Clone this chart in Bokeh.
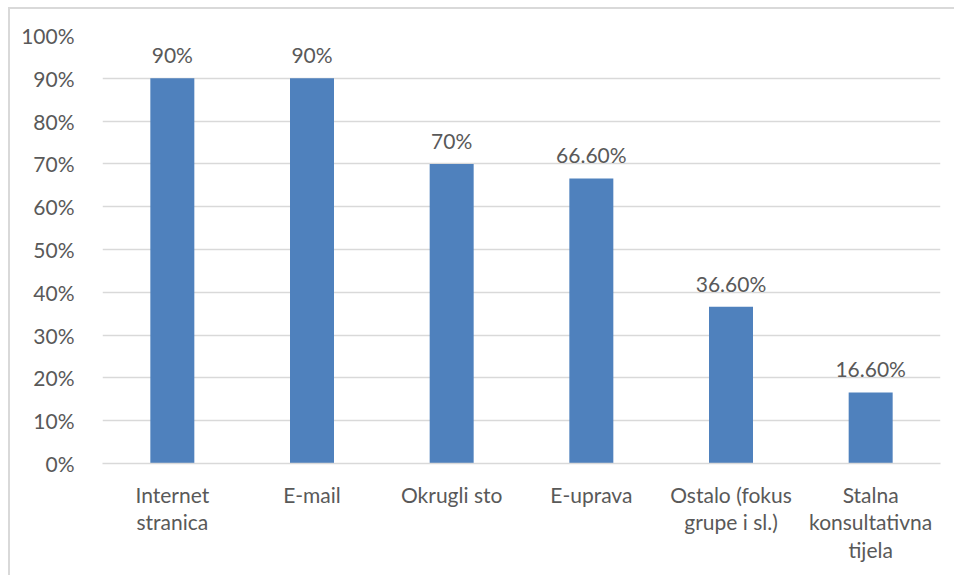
from bokeh.plotting import figure
from bokeh.models import ColumnDataSource, NumeralTickFormatter, FixedTicker, Range1d
from bokeh.core.properties import value
from bokeh.embed import file_html
from bokeh.resources import INLINE

categories = ["Internet\nstranica", "E-mail", "Okrugli sto", "E-uprava",
              "Ostalo (fokus\ngrupe i sl.)", "Stalna\nkonsultativna\ntijela"]
values = [0.90, 0.90, 0.70, 0.666, 0.366, 0.166]
labels = ["90%", "90%", "70%", "66.60%", "36.60%", "16.60%"]
y_ticks = [0, 0.1, 0.2, 0.3, 0.4, 0.5, 0.6, 0.7, 0.8, 0.9, 1.0]

FONT = "Lato"
FS = "21px"
TXT = "#595959"
GRID = "#d9d9d9"

src = ColumnDataSource(dict(cat=categories, val=values, lab=labels))

p = figure(x_range=categories, y_range=Range1d(0, 1.0), width=946, height=568,
           output_backend="svg", toolbar_location=None,
           min_border_left=92, min_border_right=16, min_border_top=26, min_border_bottom=114)
p.styles = {"margin-left": "8px", "margin-top": "7px",
            "border-left": "2px solid #d9d9d9", "border-top": "2px solid #d9d9d9"}
p.outline_line_color = None

p.vbar(x="cat", top="val", width=0.315, source=src, fill_color="#4F81BD", line_color=None)
p.text(x="cat", y="val", text="lab", source=src, text_align="center", text_baseline="bottom",
       y_offset=-11, text_font=value(FONT), text_font_size=FS, text_color=TXT)

p.yaxis.ticker = FixedTicker(ticks=y_ticks)
p.yaxis.formatter = NumeralTickFormatter(format="0%")
p.yaxis.axis_line_color = None
p.yaxis.major_tick_line_color = None
p.yaxis.minor_tick_line_color = None
p.yaxis.major_label_standoff = 22
p.yaxis.major_label_text_font = FONT
p.yaxis.major_label_text_font_size = FS
p.yaxis.major_label_text_color = TXT

p.xaxis.axis_line_color = GRID
p.xaxis.axis_line_width = 1.5
p.xaxis.major_tick_line_color = None
p.xaxis.minor_tick_line_color = None
p.xaxis.major_label_standoff = 12
p.xaxis.major_label_text_font = FONT
p.xaxis.major_label_text_font_size = FS
p.xaxis.major_label_text_color = TXT
p.xaxis.major_label_text_line_height = 1.1

p.xgrid.grid_line_color = None
p.ygrid.grid_line_color = GRID
p.ygrid.grid_line_width = 1.5

open("out.html", "w").write(file_html(p, INLINE))
